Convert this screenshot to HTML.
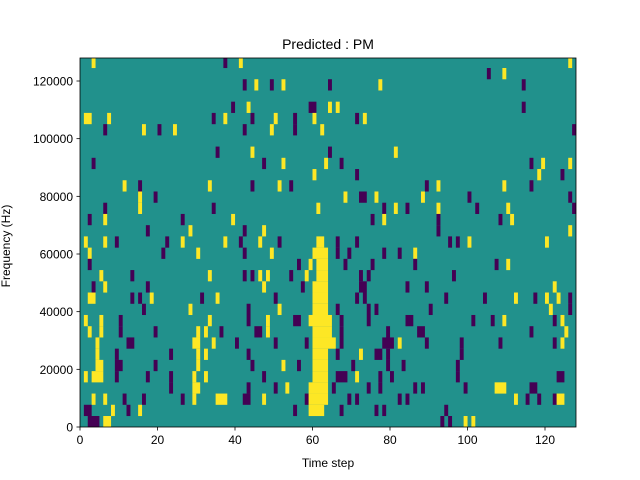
<!DOCTYPE html>
<html><head><meta charset="utf-8">
<style>
html,body{margin:0;padding:0;background:#fff;}
svg{display:block;font-family:"Liberation Sans","DejaVu Sans",sans-serif;}
</style></head>
<body>
<svg id="s" width="640" height="480" xmlns="http://www.w3.org/2000/svg">
<rect x="0" y="0" width="640" height="480" fill="#fff"/>
<rect x="80" y="58" width="496" height="369" fill="#21918c"/>
<g id="cells"></g>
<rect x="80" y="58" width="496" height="369" fill="none" stroke="#000" stroke-width="0.8"/>
<text x="328" y="49" text-anchor="middle" font-size="14">Predicted : PM</text>
<text x="328" y="467" text-anchor="middle" font-size="12">Time step</text>
<text transform="translate(10,246) rotate(-90)" text-anchor="middle" font-size="12">Frequency (Hz)</text>
<g id="ticks" font-size="12"></g>
</svg>
<script>
var rows=[
"Y3 P37 Y41 Y126",
"P105 Y109",
"P42 Y45 P49 Y52 P64 Y77 P114",
"",
"P39 Y43 P59-60 Y64 Y66 P114",
"Y1-2 Y7 P34 Y37 P44 Y50 P55 Y60 P71 Y73",
"P6 Y16 P20 Y24 P42 Y49 P55 Y62 P127",
"",
"P35 Y44 P64 Y81",
"P3 P47 Y52 Y63 P67 P116 Y119 Y126",
"Y60 P71 Y118 P124",
"Y11 P15 Y33 P44 Y51 P54 P89 Y92 Y109 P116",
"Y15 P19 Y68 P72-73 Y76 Y88 P100 P126",
"P6 Y15 P34 Y61 P78 Y81 P84 Y92 P102 Y110 P127",
"P2 Y6 P26 Y39 P75 Y78 P92 P108 Y111",
"P17 Y28 P42 Y47 P92 Y126",
"Y1 Y6 P9 P22 Y26 Y37 P41 Y46 P51 Y61-62 P66 P71 P95 P97 Y100 Y120",
"Y2 P21 Y30 P42 Y49 Y60-63 P66 P69 P78 P82 Y86",
"P2 P56 Y59 Y61-63 P68 P75 P86 P107 Y110",
"Y5 P13 Y33 P42 P44 Y46 Y48 P54 Y58 Y61-63 P72 P74 P96",
"P3 Y6 P17 Y47 P57 Y60-63 P72-73 P84 P89 Y122",
"Y2-3 P13 P15 Y18 P31 Y35 P50 Y60-63 P71 P73 P94 P104 Y112 P117 Y120 Y123 P126",
"P16 Y28 P43 Y51 Y60-63 P66 P74 P76 P90 Y121 P126",
"Y1 Y5 P10 Y33 P43 Y48 P55-56 Y59-64 P67 P74 P84-85 P101 P106 Y109 P122 Y124",
"Y2 Y5 P10 P19 Y30 Y32 P36 P45-46 Y48 Y60-64 P67 P79 P87-88 P116 Y125",
"Y4 P12-13 Y29-30 Y34 P40 P50 P58 Y60-65 P67 P78-80 Y82 P89 P98 P108 P122 Y124",
"Y4 P9 P23 Y30 Y32 P43 Y60-63 P66 Y72 P76-77 P79 P98",
"Y4-5 P9-10 P19 Y30 P44 Y52 P56 Y60-63 P70 P79 P83 P97",
"Y1 Y3-5 P9 P17 P23 Y29 Y32 P47 Y60-63 P66-68 Y71 P77 P80 P97 P123-124",
"P23 Y29-30 P43 P50 Y53 Y59-63 P65 P74 P77 P86 P88 P99 Y107-109 P116-117",
"Y3 Y6 P11 P16 P26 Y29 Y35-37 P42-43 Y47 P58 Y59-63 P69 P71 P82 P84 Y112 P115 P118 P122 Y123-124",
"P1-2 Y8 P12 Y15 P55 Y59-62 P67 P76 P78 P94",
"P2-4 Y6-7 P93 P95 Y99 Y101"
];
var C={Y:"#fde725",P:"#440154"},g=document.getElementById("cells"),h="";
function ry(t){return t==0?58:68+11.226*(t-1);}
for(var t=0;t<rows.length;t++){
 if(!rows[t])continue;
 var y0=ry(t),y1=t==32?427:ry(t+1);
 rows[t].split(" ").forEach(function(s){
  var c=s[0],r=s.slice(1).split("-"),a=+r[0],b=r.length>1?+r[1]:a;
  h+='<rect x="'+(80+a*3.875)+'" y="'+y0+'" width="'+((b-a+1)*3.875+0.05)+'" height="'+(y1-y0+0.05)+'" fill="'+C[c]+'"/>';
 });
}
g.innerHTML=h;
var k="";
for(var v=0;v<=120;v+=20){var x=80+v*3.875;k+='<line x1="'+x+'" y1="427" x2="'+x+'" y2="430.5" stroke="#000" stroke-width="0.8"/><text x="'+x+'" y="444" text-anchor="middle">'+v+'</text>';}
for(var v=0;v<=120000;v+=20000){var y=427-v*0.0028833;k+='<line x1="76.5" y1="'+y+'" x2="80" y2="'+y+'" stroke="#000" stroke-width="0.8"/><text x="73" y="'+(y+4.5)+'" text-anchor="end">'+v+'</text>';}
document.getElementById("ticks").innerHTML=k;
</script>
</body></html>
